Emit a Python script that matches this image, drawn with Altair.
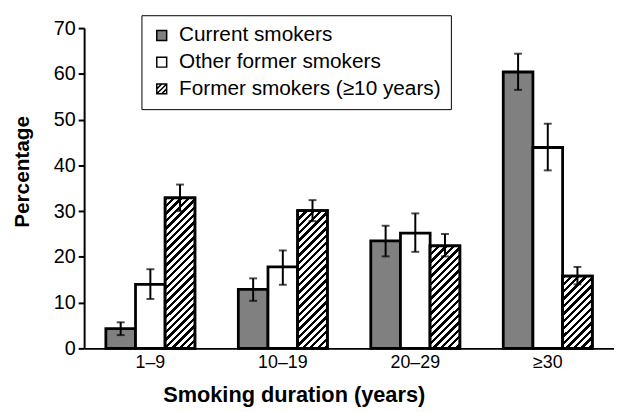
import altair as alt
import pandas as pd

durations = ["1–9", "10–19", "20–29", "≥30"]
series = ["Current smokers", "Other former smokers", "Former smokers (≥10 years)"]

current = [4.3, 12.9, 23.5, 60.4]
current_lo = [2.9, 10.4, 20.1, 56.5]
current_hi = [5.7, 15.3, 26.8, 64.4]

other = [14.0, 17.8, 25.2, 43.9]
other_lo = [10.8, 13.9, 21.1, 38.9]
other_hi = [17.3, 21.4, 29.5, 49.1]

former = [32.9, 30.1, 22.4, 15.8]
former_lo = [30.0, 27.8, 20.1, 14.0]
former_hi = [35.8, 32.4, 25.0, 17.8]

rows = []
for i, d in enumerate(durations):
    for s, v, lo, hi in [
        (series[0], current[i], current_lo[i], current_hi[i]),
        (series[1], other[i], other_lo[i], other_hi[i]),
        (series[2], former[i], former_lo[i], former_hi[i]),
    ]:
        rows.append(dict(duration=d, series=s, value=v, lo=lo, hi=hi))
df = pd.DataFrame(rows)

W, H = 536, 324
YMAX = 70
FONT = "Liberation Sans"
BAR_W = 30.0
HATCH_PERIOD = 7.5
HATCH_FRAC = 0.45
GRAY = "#808080"

x_axis = alt.Axis(
    title="Smoking duration (years)", labelAngle=0, ticks=False,
    domainColor="black", domainWidth=2,
    labelFont=FONT, labelFontSize=18, labelColor="black", labelPadding=5,
    titleFont=FONT, titleFontSize=22, titleFontWeight="bold", titleColor="black",
    titleX=212, titleY=54, titleBaseline="alphabetic", titleAlign="center",
)
y_axis = alt.Axis(
    title="Percentage", values=[0, 10, 20, 30, 40, 50, 60, 70], format="d", grid=False,
    domainColor="black", domainWidth=2, tickColor="black", tickWidth=2, tickSize=6,
    labelFont=FONT, labelFontSize=20, labelColor="black", labelPadding=3,
    titleFont=FONT, titleFontSize=21, titleFontWeight="bold", titleColor="black",
    titleX=-56, titleY=145, titleBaseline="alphabetic", titleAlign="center", titleAngle=270,
)
legend = alt.Legend(
    title=None, orient="none", legendX=58, legendY=-13,
    strokeColor="black", fillColor="white", padding=10,
    labelFont=FONT, labelFontSize=21, labelColor="black", labelOffset=7, labelLimit=400,
    symbolSize=100, symbolOpacity=1, rowPadding=5,
)

x_scale = alt.Scale(paddingInner=0.328, paddingOuter=0.164)
xo_scale = alt.Scale(domain=series)
y_scale = alt.Scale(domain=[0, YMAX], nice=False)
fill_scale = alt.Scale(domain=series, range=[GRAY, "white", "white"])
square = "M-1,-1H1V1H-1Z"
hatched = "M-1,-1H1V1H-1Z M-1,0L0,-1 M-1,1L1,-1 M0,1L1,0"
shape_scale = alt.Scale(domain=series, range=[square, square, hatched])


def xenc():
    return alt.X("duration:N", sort=durations, scale=x_scale, axis=x_axis)


def xoenc():
    return alt.XOffset("series:N", sort=series, scale=xo_scale)


def yenc(field):
    return alt.Y(field, type="quantitative", scale=y_scale, axis=y_axis)


base = alt.Chart(df)

legend_layer = base.mark_point(filled=True, opacity=0, stroke="black", strokeWidth=1.5).encode(
    x=xenc(), xOffset=xoenc(), y=yenc("value"),
    color=alt.Color("series:N", scale=fill_scale, legend=legend),
    shape=alt.Shape("series:N", scale=shape_scale, legend=legend),
)

bars = base.mark_bar(stroke="black", strokeWidth=2.8).encode(
    x=xenc(), xOffset=xoenc(), y=yenc("value"),
    fill=alt.Fill("series:N", scale=fill_scale, legend=None),
)


def hatch_gradient(value):
    h = value / YMAX * H
    r = h / BAR_W
    span = BAR_W * (1 + r * r)
    pt = HATCH_PERIOD / span
    stops = []
    k = 0
    while k * pt < 1:
        a = k * pt
        b = min(a + HATCH_FRAC * pt, 1.0)
        c = min(a + pt, 1.0)
        stops += [
            {"offset": round(a, 5), "color": "black"},
            {"offset": round(b, 5), "color": "black"},
            {"offset": round(b, 5), "color": "white"},
            {"offset": round(c, 5), "color": "white"},
        ]
        k += 1
    return {"gradient": "linear", "x1": 0, "y1": 0, "x2": 1, "y2": round(r, 5), "stops": stops}


hatch_layers = []
for i, d in enumerate(durations):
    hatch_layers.append(
        base.transform_filter(
            (alt.datum.series == series[2]) & (alt.datum.duration == d)
        ).mark_bar(fill=hatch_gradient(former[i]), stroke="black", strokeWidth=2.8).encode(
            x=xenc(), xOffset=xoenc(), y=yenc("value")
        )
    )

err = base.mark_rule(color="black", strokeWidth=2).encode(
    x=xenc(), xOffset=xoenc(), y=yenc("lo"), y2="hi:Q",
)
cap_hi = base.mark_tick(color="black", thickness=2, size=8).encode(
    x=xenc(), xOffset=xoenc(), y=yenc("hi")
)
cap_lo = base.mark_tick(color="black", thickness=2, size=8).encode(
    x=xenc(), xOffset=xoenc(), y=yenc("lo")
)

chart = alt.layer(legend_layer, bars, *hatch_layers, err, cap_hi, cap_lo).properties(
    width=W, height=H,
    autosize="none",
    padding={"left": 77, "top": 18, "right": 0, "bottom": 58},
    background="white",
).configure_view(stroke=None)

chart.save("out.html", embed_options={"renderer": "svg", "actions": False})
